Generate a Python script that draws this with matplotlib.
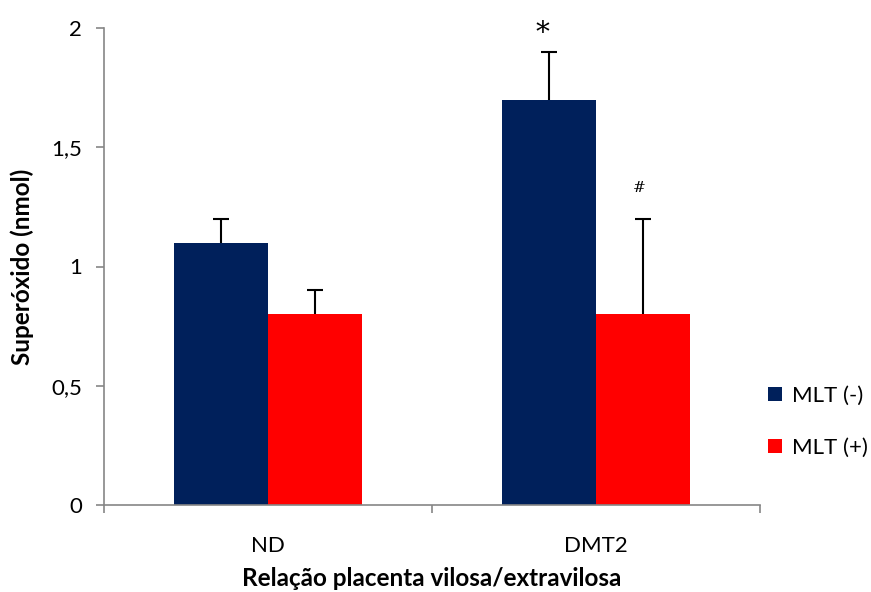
import matplotlib
matplotlib.use('Agg')
import numpy as np
import matplotlib.pyplot as plt

# dados
categorias = ['ND', 'DMT2']
mlt_neg = [1.1, 1.7]
mlt_pos = [0.8, 0.8]
erro_neg = [0.1, 0.2]
erro_pos = [0.1, 0.4]
series = ['MLT (-)', 'MLT (+)']
cores = ['#00205B', '#FF0000']

plt.rcParams['font.family'] = ['Lato', 'DejaVu Sans']

fig = plt.figure(figsize=(8.71, 5.92), dpi=100)
ax = fig.add_axes([104 / 871, 1 - 505 / 592, 656 / 871, 477 / 592])

x = np.arange(len(categorias))
w = 0.286
ekw = dict(ecolor='black', capsize=6, elinewidth=1.5, capthick=1.5)
b1 = ax.bar(x - w / 2, mlt_neg, w, color=cores[0], label=series[0],
            yerr=[np.zeros(2), erro_neg], error_kw=ekw)
b2 = ax.bar(x + w / 2, mlt_pos, w, color=cores[1], label=series[1],
            yerr=[np.zeros(2), erro_pos], error_kw=ekw)
# so a barra de erro superior
for b in (b1, b2):
    b.errorbar.lines[1][0].set_visible(False)

# marcas de significancia
ax.text(1 - w / 2 - 0.021, 1.92, '*', ha='center', va='bottom', fontsize=20, family='DejaVu Serif')
ax.text(1 + w / 2 - 0.01, 1.33, '#', ha='center', va='center', fontsize=11, family='DejaVu Serif')

ax.set_xlim(-0.5, 1.5)
ax.set_ylim(0, 2)
ax.set_yticks([0, 0.5, 1, 1.5, 2])
ax.set_yticklabels(['0', '0,5', '1', '1,5', '2'])
ax.set_xticks(x)
ax.set_xticklabels(categorias)
ax.set_xticks([-0.5, 0.5, 1.5], minor=True)
ax.tick_params(axis='x', which='major', length=0, pad=22, labelsize=16)
ax.tick_params(axis='x', which='minor', length=6, color='#868686', width=1.2)
ax.tick_params(axis='y', length=6, color='#868686', width=1.2, labelsize=16, pad=10)

for s in ['top', 'right']:
    ax.spines[s].set_visible(False)
for s in ['left', 'bottom']:
    ax.spines[s].set_color('#868686')
    ax.spines[s].set_linewidth(1.2)

ax.set_ylabel('Superóxido (nmol)', fontsize=17.5, fontweight='bold', labelpad=12)
ax.set_xlabel('Relação placenta vilosa/extravilosa', fontsize=17.5, fontweight='bold', labelpad=8)

ax.legend(loc='center left', bbox_to_anchor=(0.982, 0.174), frameon=False, fontsize=16,
          handlelength=0.62, handleheight=0.62, labelspacing=1.45, handletextpad=0.45)

fig.savefig('out.png', dpi=100)
